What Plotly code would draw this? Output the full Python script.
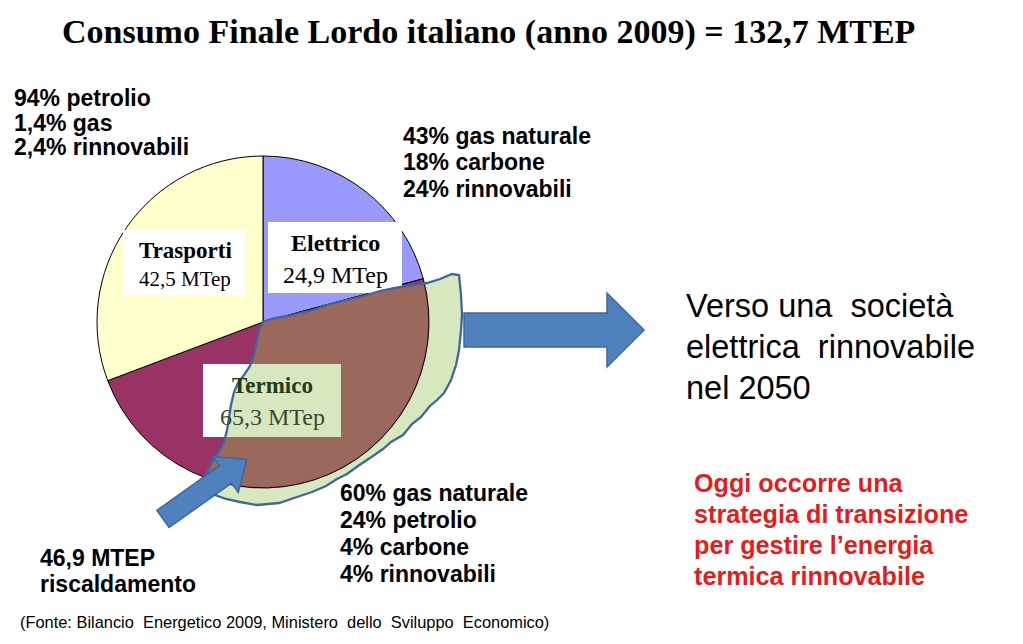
import numpy as np
import plotly.graph_objects as go

W, H = 1023, 644

# ---- data -------------------------------------------------------------
sectors = ["Elettrico", "Termico", "Trasporti"]
sector_sizes = [27.6, 64.3, 40.8]          # slice sizes as drawn in the picture
sector_colors = ["#9999ff", "#993366", "#ffffcc"]
sector_mtep = ["24,9 MTep", "65,3 MTep", "42,5 MTep"]

title_text = "Consumo Finale Lordo italiano (anno 2009) = 132,7 MTEP"
trasporti_mix = ["94% petrolio", "1,4% gas", "2,4% rinnovabili"]
elettrico_mix = ["43% gas naturale", "18% carbone", "24% rinnovabili"]
termico_mix = ["60% gas naturale", "24% petrolio", "4% carbone", "4% rinnovabili"]
riscaldamento = ["46,9 MTEP", "riscaldamento"]
verso_lines = ["Verso una  società", "elettrica  rinnovabile", "nel 2050"]
red_lines = ["Oggi occorre una", "strategia di transizione",
             "per gestire l\u2019energia", "termica rinnovabile"]
fonte = "(Fonte: Bilancio  Energetico 2009, Ministero  dello  Sviluppo  Economico)"

# ---- geometry helpers (pixel -> paper) ----------------------------------
CX, CY, R = 263, 322, 166


def P(x, y):
    return x / W, 1 - y / H


def path(points, close=True):
    s = ""
    for i, (x, y) in enumerate(points):
        px, py = P(x, y)
        s += ("M" if i == 0 else "L") + f"{px:.5f},{py:.5f} "
    return s + ("Z" if close else "")


def arc(t0, t1, r, n=50):
    th = np.radians(np.linspace(t0, t1, n))
    return [(CX + r * np.sin(t), CY - r * np.cos(t)) for t in th]


fig = go.Figure()
fig.add_trace(go.Pie(
    labels=sectors, values=sector_sizes, sort=False, direction="clockwise",
    rotation=0, marker=dict(colors=sector_colors, line=dict(color="black", width=1)),
    textinfo="none", hoverinfo="skip", showlegend=False,
    domain=dict(x=[(CX - R) / W, (CX + R) / W], y=[1 - (CY + R) / H, 1 - (CY - R) / H]),
))

# blob outline pieces
TOP = [(263, 322), (268, 320), (275, 318), (287, 316), (300, 313), (313, 310), (330, 304),
       (347, 300), (363, 296), (380, 291), (395, 288), (413, 285), (427, 283), (440, 279), (452, 274)]
RB = [(459, 275), (461, 295), (462, 315), (461, 330), (459, 350), (456, 365), (451, 380),
      (444, 393), (437, 400), (430, 406), (421, 417), (412, 424), (403, 435), (391, 442),
      (383, 449), (370, 458), (358, 466), (347, 474), (337, 479), (326, 486), (312, 492),
      (297, 497), (279, 503), (257, 505), (240, 502), (226, 499), (215, 495), (208, 488), (205, 478)]
LEFT_UP = [(208, 470), (213, 460), (219, 452), (224, 442), (227, 430), (229, 418), (231, 405),
           (234, 392), (238, 383), (244, 375), (250, 366), (254, 355), (257, 340), (260, 328)]
blob = TOP + RB + LEFT_UP

GREEN = "#d7e8bf"
BROWN = "#9b685c"
BLUE = "#4f81bd"
BLUE_LINE = "#3f66a0"

shapes = []
# green blob behind pie
shapes.append(dict(type="path", xref="paper", yref="paper", layer="below",
                   path=path(blob), fillcolor=GREEN, line=dict(width=0)))
# label boxes
shapes.append(dict(type="rect", xref="paper", yref="paper", layer="above",
                   x0=123 / W, x1=245 / W, y0=1 - 295 / H, y1=1 - 230 / H,
                   fillcolor="white", line=dict(width=0)))
shapes.append(dict(type="rect", xref="paper", yref="paper", layer="above",
                   x0=268 / W, x1=402 / W, y0=1 - 293 / H, y1=1 - 222 / H,
                   fillcolor="white", line=dict(width=0)))
# brown riscaldamento part inside the pie
brown = [(263, 322)] + LEFT_UP[::-1] + [(205.6, 478)] + arc(200.2, 76.55, R - 1) + \
        [(424, 283.5)] + TOP[:12][::-1]
shapes.append(dict(type="path", xref="paper", yref="paper", layer="above",
                   path=path(brown), fillcolor=BROWN, line=dict(width=0)))
# Termico box
shapes.append(dict(type="rect", xref="paper", yref="paper", layer="above",
                   x0=203 / W, x1=341 / W, y0=1 - 437 / H, y1=1 - 364 / H,
                   fillcolor="white", line=dict(width=0)))
tg = [(250.7, 364), (341, 364), (341, 437), (225.3, 437), (227, 430), (229, 418), (231, 405),
      (234, 392), (238, 383), (244, 375), (250, 366)]
shapes.append(dict(type="path", xref="paper", yref="paper", layer="above",
                   path=path(tg), fillcolor=GREEN, line=dict(width=0)))
# blob outline
shapes.append(dict(type="path", xref="paper", yref="paper", layer="above",
                   path=path(blob), fillcolor="rgba(0,0,0,0)", line=dict(color=BLUE_LINE, width=2.3)))
# right arrow
ra = [(464, 313), (607, 313), (607, 293), (644, 330), (607, 367), (607, 347), (464, 347)]
shapes.append(dict(type="path", xref="paper", yref="paper", layer="above",
                   path=path(ra), fillcolor=BLUE, line=dict(color=BLUE_LINE, width=1.5)))
# diagonal arrow
T = np.array([163.0, 519.0]); B = np.array([225.5, 474.5])
u = (B - T) / np.linalg.norm(B - T); nrm = np.array([-u[1], u[0]])
tip = B + 26 * u
da = [T - 10.5 * nrm, B - 10.5 * nrm, B - 22 * nrm, tip, B + 22 * nrm, B + 10.5 * nrm, T + 10.5 * nrm]
da = [(float(a), float(b)) for a, b in da]
shapes.append(dict(type="path", xref="paper", yref="paper", layer="above",
                   path=path(da), fillcolor=BLUE, line=dict(color=BLUE_LINE, width=1.5)))

anns = []


def ann(x, y, text, size, color="black", family="Liberation Sans", xanchor="left"):
    px, py = P(x, y)
    anns.append(dict(x=px, y=py, xref="paper", yref="paper", text=text, showarrow=False,
                     xanchor=xanchor, yanchor="middle", align=xanchor if xanchor != "center" else "center",
                     font=dict(family=family, size=size, color=color)))


ann(488, 32, f"<b>{title_text}</b>", 34, family="Liberation Serif", xanchor="center")
for i, t in enumerate(trasporti_mix):
    ann(12, 98 + 24.5 * i, f"<b>{t}</b>", 23)
for i, t in enumerate(elettrico_mix):
    ann(401, 136 + 26.5 * i, f"<b>{t}</b>", 23)
for i, t in enumerate(termico_mix):
    ann(338, 493 + 27 * i, f"<b>{t}</b>", 23)
for i, t in enumerate(riscaldamento):
    ann(38, 558 + 26 * i, f"<b>{t}</b>", 23)
for i, t in enumerate(verso_lines):
    ann(684, 306 + 41 * i, t, 32.5)
for i, t in enumerate(red_lines):
    ann(692, 483 + 31 * i, f"<b>{t}</b>", 25.2, color="#e41c1c")
ann(18, 622, fonte, 16.4)

# sector labels in boxes
ann(335, 243, f"<b>{sectors[0]}</b>", 24, family="Liberation Serif", xanchor="center")
ann(335, 275, sector_mtep[0], 24, family="Liberation Serif", xanchor="center")
ann(185, 250, f"<b>{sectors[2]}</b>", 23, family="Liberation Serif", xanchor="center")
ann(185, 279, sector_mtep[2], 21, family="Liberation Serif", xanchor="center")
ann(272, 385, f"<b>{sectors[1]}</b>", 23, color="#243b17", family="Liberation Serif", xanchor="center")
ann(272, 417, sector_mtep[1], 24, color="#3a4732", family="Liberation Serif", xanchor="center")

fig.update_layout(width=W, height=H, margin=dict(l=0, r=0, t=0, b=0),
                  paper_bgcolor="white", plot_bgcolor="white",
                  shapes=shapes, annotations=anns)
fig.write_html("out.html")
